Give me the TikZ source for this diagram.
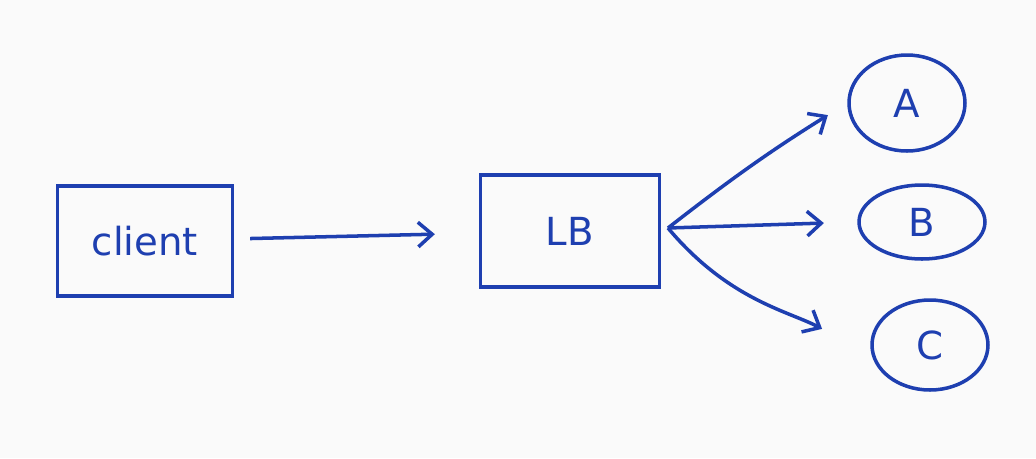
\documentclass[tikz,border=0pt]{standalone}
\usepackage{fontspec}
\setmainfont{DejaVu Sans}
\usetikzlibrary{arrows.meta}
\usetikzlibrary{shapes.geometric}
\definecolor{pen}{HTML}{1E3FB0}

\begin{document}
\begin{tikzpicture}[x=0.02cm, y=-0.02cm,
  box/.style={draw=pen, line width=2pt, minimum width=3.5cm, minimum height=2.2cm, text=pen, font=\fontsize{22}{26}\selectfont},
  server/.style={draw=pen, line width=2pt, ellipse, inner sep=0pt, text=pen, font=\fontsize{22}{26}\selectfont},
  link/.style={draw=pen, line width=2pt, -{Straight Barb[length=8pt, width=14pt]}}]
\fill[white!98!black] (0,0) rectangle (1036,458);
\useasboundingbox (0,0) rectangle (1036,458);
% the two boxes
\node[box] (client) at (145,241) {client};
\node[box, minimum width=3.58cm, minimum height=2.24cm] (lb) at (570,231) {LB};
% the three servers
\node[server, minimum width=2.32cm, minimum height=1.92cm] (a) at (907,103) {A};
\node[server, minimum width=2.52cm, minimum height=1.48cm] (b) at (922,222) {B};
\node[server, minimum width=2.32cm, minimum height=1.8cm] (c) at (930,345) {C};
\coordinate (fork) at (668,228);
% connectors
\draw[link, shorten <=9pt, shorten >=25pt] (client) -- (lb);
\draw[link, shorten >=13pt] (fork) to[out=38, in=212] (a.west);
\draw[link, shorten >=19pt] (fork) -- (b.west);
\draw[link, shorten >=32pt] (fork) to[out=-50, in=152] (c.190);
\end{tikzpicture}
\end{document}
